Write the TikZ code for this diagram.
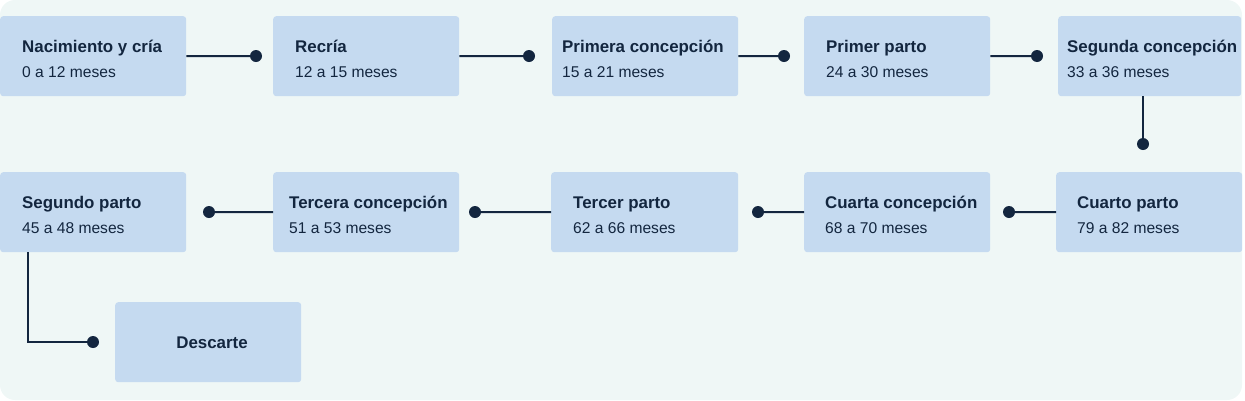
\documentclass[tikz,border=0pt]{standalone}
\usepackage{fontspec}
\setmainfont{Liberation Sans}
\definecolor{bgc}{HTML}{EFF7F6}
\definecolor{boxc}{HTML}{C5DAF0}
\definecolor{ink}{HTML}{13263F}
\begin{document}
\begin{tikzpicture}[x=1pt,y=-1pt,
  stage/.style={fill=boxc,rounded corners=3pt,draw=none,minimum width=186pt,minimum height=80pt,inner sep=0pt,anchor=north west},
  ttl/.style={anchor=base west,inner sep=0pt,text=ink,font=\fontsize{16.9}{18}\selectfont\bfseries},
  sub/.style={anchor=base west,inner sep=0pt,text=ink,font=\fontsize{15.6}{18}\selectfont},
  link/.style={draw=ink,line width=2pt},
  dot/.style={fill=ink}]
\useasboundingbox (0,0) rectangle (1245,400);
\fill[bgc,rounded corners=15pt] (0,0) rectangle (1242,400);
% row 1
\node[stage] (b1) at (0,16) {};
\node[stage] (b2) at (273,16) {};
\node[stage] (b3) at (552,16) {};
\node[stage] (b4) at (804,16) {};
\node[stage,minimum width=183pt] (b5) at (1058,16) {};
% row 2
\node[stage] (b6) at (0,172) {};
\node[stage] (b7) at (273,172) {};
\node[stage,minimum width=187pt] (b8) at (551,172) {};
\node[stage] (b9) at (804,172) {};
\node[stage] (b10) at (1056,172) {};
\node[stage] (b11) at (115,302) {};
% texts
\node[ttl] (t1) at (22,52) {Nacimiento y cría};
\node[sub] (s1) at (22,77) {0 a 12 meses};
\node[ttl] (t2) at (295,52) {Recría};
\node[sub] (s2) at (295,77) {12 a 15 meses};
\node[ttl] (t3) at (562,52) {Primera concepción};
\node[sub] (s3) at (562,77) {15 a 21 meses};
\node[ttl] (t4) at (826,52) {Primer parto};
\node[sub] (s4) at (826,77) {24 a 30 meses};
\node[ttl] (t5) at (1067,52) {Segunda concepción};
\node[sub] (s5) at (1067,77) {33 a 36 meses};
\node[ttl] (t6) at (22,208) {Segundo parto};
\node[sub] (s6) at (22,233) {45 a 48 meses};
\node[ttl] (t7) at (289,208) {Tercera concepción};
\node[sub] (s7) at (289,233) {51 a 53 meses};
\node[ttl] (t8) at (573,208) {Tercer parto};
\node[sub] (s8) at (573,233) {62 a 66 meses};
\node[ttl] (t9) at (825,208) {Cuarta concepción};
\node[sub] (s9) at (825,233) {68 a 70 meses};
\node[ttl] (t10) at (1077,208) {Cuarto parto};
\node[sub] (s10) at (1077,233) {79 a 82 meses};
\node[ttl,anchor=base] (t11) at (212,348) {Descarte};
% connector end points
\coordinate (d1) at (256,56);
\coordinate (d2) at (529,56);
\coordinate (d3) at (784,56);
\coordinate (d4) at (1037,56);
\coordinate (d5) at (1143,144);
\coordinate (d6) at (1009,212);
\coordinate (d7) at (758,212);
\coordinate (d8) at (475,212);
\coordinate (d9) at (209,212);
\coordinate (d10) at (93,342);
\coordinate (k) at (28,342);
\draw[link] (b1.east) -- (d1);
\draw[link] (b2.east) -- (d2);
\draw[link] (b3.east) -- (d3);
\draw[link] (b4.east) -- (d4);
\draw[link] (b5.south -| d5) -- (d5);
\draw[link] (b10.west) -- (d6);
\draw[link] (b9.west) -- (d7);
\draw[link] (b8.west) -- (d8);
\draw[link] (b7.west) -- (d9);
\draw[link] (b6.south -| k) -- (k) -- (d10);
\foreach \d in {d1,d2,d3,d4,d5,d6,d7,d8,d9,d10} \fill[dot] (\d) circle (6pt);
\end{tikzpicture}
\end{document}
